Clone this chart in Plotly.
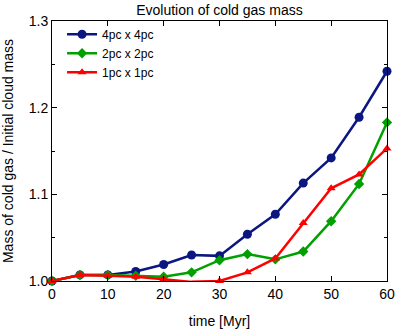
import plotly.graph_objects as go

time_myr = [0, 5, 10, 15, 20, 25, 30, 35, 40, 45, 50, 55, 60]
mass_4pc = [1.000, 1.007, 1.007, 1.011, 1.019, 1.030, 1.029, 1.054, 1.077, 1.113, 1.142, 1.189, 1.242]
mass_2pc = [1.000, 1.007, 1.007, 1.006, 1.005, 1.010, 1.024, 1.031, 1.025, 1.034, 1.069, 1.112, 1.183]
mass_1pc = [1.000, 1.007, 1.006, 1.005, 1.002, 0.999, 1.000, 1.010, 1.026, 1.067, 1.107, 1.123, 1.153]

NAVY = "#0c1680"
GREEN = "#00a000"
RED = "#ff0000"

series = [
    ("4pc x 4pc", mass_4pc, NAVY, "circle", 9),
    ("2pc x 2pc", mass_2pc, GREEN, "diamond", 8),
    ("1pc x 1pc", mass_1pc, RED, "triangle-up", 8),
]

fig = go.Figure()
for name, vals, color, symbol, size in series:
    fig.add_trace(go.Scatter(
        x=time_myr, y=vals, name=name, mode="lines+markers",
        line=dict(color=color, width=2.5),
        marker=dict(symbol=symbol, size=size, color=color),
        cliponaxis=False,
    ))

axis_style = dict(
    showline=True, linecolor="black", linewidth=1, mirror="allticks",
    ticks="inside", ticklen=5, tickcolor="black", showgrid=False,
    zeroline=False, tickfont=dict(size=14, color="black"), automargin=False,
)

fig.update_xaxes(range=[0, 60], dtick=10, title_text="time [Myr]",
                 title_font=dict(size=14, color="black"),
                 **axis_style)
fig.update_yaxes(range=[1.0, 1.3], dtick=0.1, tickformat=".1f",
                 title_text="Mass of cold gas / Initial cloud mass",
                 title_font=dict(size=14, color="black"),
                 minor=dict(dtick=0.05, ticks="inside", ticklen=3, tickcolor="black"),
                 **axis_style)

fig.update_layout(
    width=399, height=334,
    margin=dict(l=52, r=12, t=21, b=53),
    font=dict(family="Liberation Sans, Arial", color="black"),
    title=dict(text="Evolution of cold gas mass", x=0.55, xanchor="center",
               y=0.985, yanchor="top", font=dict(size=14)),
    plot_bgcolor="white", paper_bgcolor="white",
    legend=dict(x=0.03, y=1.005, xanchor="left", yanchor="top",
                bgcolor="rgba(0,0,0,0)", font=dict(size=12),
                tracegroupgap=2),
    showlegend=True,
)

# drop the default page margin so the 399x334 figure fills the window
fig.write_html("out.html", config={"displayModeBar": False},
               post_script="document.body.style.margin='0';")
